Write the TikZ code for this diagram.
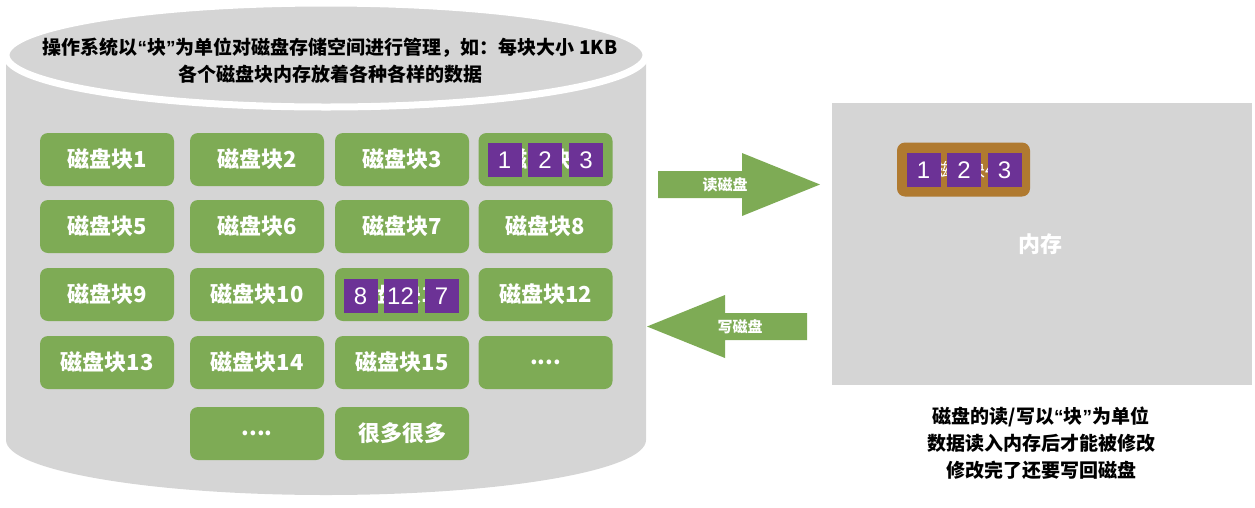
\documentclass[tikz,border=0pt]{standalone}
\usepackage{fontspec}
\setmainfont{Noto Sans CJK SC}
\newfontfamily\cjk{Noto Sans CJK SC}
\newfontfamily\lat{Liberation Sans}
\newcommand{\myLQ}{{\lat “}}
\newcommand{\myRQ}{{\lat ”}}
\definecolor{blkgreen}{RGB}{126,171,85}
\definecolor{diskgray}{RGB}{213,213,213}
\definecolor{blkpurple}{RGB}{108,50,150}
\definecolor{blkbrown}{RGB}{176,122,48}
\begin{document}
\begin{tikzpicture}[x=1pt,y=-1pt,
  blk/.style={rounded corners=8pt, fill=blkgreen, minimum width=134pt, minimum height=53pt,
    inner sep=0pt, text=white, font=\cjk\bfseries\fontsize{22pt}{26pt}\selectfont},
  sq/.style={fill=blkpurple, minimum size=34pt, inner sep=0pt, text=white,
    font=\lat\fontsize{24pt}{26pt}\selectfont},
  arrowbody/.style={fill=blkgreen},
  arrowlabel/.style={text=white, font=\cjk\bfseries\fontsize{15pt}{18pt}\selectfont, inner sep=0pt},
  note/.style={align=center, font=\cjk\bfseries\fontsize{19pt}{27pt}\selectfont, inner sep=0pt}
]
\useasboundingbox (0,0) rectangle (1255,507);

% disk cylinder
\fill[diskgray] (6,55) -- (6,440) arc[start angle=180, end angle=360, x radius=320pt, y radius=55pt] -- (646,55) -- cycle;
\draw[white, line width=7pt, fill=diskgray] (326,55) ellipse[x radius=320pt, y radius=52pt];
\node[note] (disktext) at (330,61) {操作系统以\myLQ 块\myRQ 为单位对磁盘存储空间进行管理，如：每块大小 1KB\\各个磁盘块内存放着各种各样的数据};

% blocks
\node[blk] (b1) at (107,159.5) {磁盘块1};
\node[blk] (b2) at (257,159.5) {磁盘块2};
\node[blk] (b3) at (402,159.5) {磁盘块3};
\node[blk] (b4) at (545.5,159.5) {磁盘块4};
\node[blk] (b5) at (107,226.5) {磁盘块5};
\node[blk] (b6) at (257,226.5) {磁盘块6};
\node[blk] (b7) at (402,226.5) {磁盘块7};
\node[blk] (b8) at (545.5,226.5) {磁盘块8};
\node[blk] (b9) at (107,294.5) {磁盘块9};
\node[blk] (b10) at (257,294.5) {磁盘块10};
\node[blk] (b11) at (402,294.5) {磁盘块11};
\node[blk] (b12) at (545.5,294.5) {磁盘块12};
\node[blk] (b13) at (107,362.5) {磁盘块13};
\node[blk] (b14) at (257,362.5) {磁盘块14};
\node[blk] (b15) at (402,362.5) {磁盘块15};
\node[blk] (b16) at (545.5,362.5) {....};
\node[blk] (b17) at (257,433.5) {....};
\node[blk] (b18) at (402,433.5) {很多很多};

% data in block 4
\node[sq] (d1) at (504.5,160) {1};
\node[sq] (d2) at (545,160) {2};
\node[sq] (d3) at (586,160) {3};
% data in block 11
\node[sq] (d8) at (360.5,296) {8};
\node[sq] (d12) at (400.5,296) {12};
\node[sq] (d7) at (441.5,296) {7};

% memory
\fill[diskgray] (832,103) rectangle (1252,385);
\node[text=white, font=\cjk\bfseries\fontsize{22pt}{26pt}\selectfont] (mem) at (1040,244) {内存};
\node[blk, fill=blkbrown, minimum width=133pt, minimum height=54pt, font=\cjk\fontsize{18pt}{22pt}\selectfont] (mb) at (963.5,169.5) {磁盘块4};
\node[sq] (m1) at (923.5,170) {1};
\node[sq] (m2) at (964,170) {2};
\node[sq] (m3) at (1004.5,170) {3};

% read arrow
\fill[arrowbody] (658,171) -- (742,171) -- (742,153) -- (820,184.5) -- (742,216) -- (742,198) -- (658,198) -- cycle;
\node[arrowlabel] (rd) at (725,185) {读磁盘};
% write arrow
\fill[arrowbody] (647,326.5) -- (725,295) -- (725,313) -- (807,313) -- (807,340) -- (725,340) -- (725,358) -- cycle;
\node[arrowlabel] (wr) at (740,327) {写磁盘};

% note
\node[note] (note2) at (1041,443) {磁盘的读/写以\myLQ 块\myRQ 为单位\\数据读入内存后才能被修改\\修改完了还要写回磁盘};
\end{tikzpicture}
\end{document}
